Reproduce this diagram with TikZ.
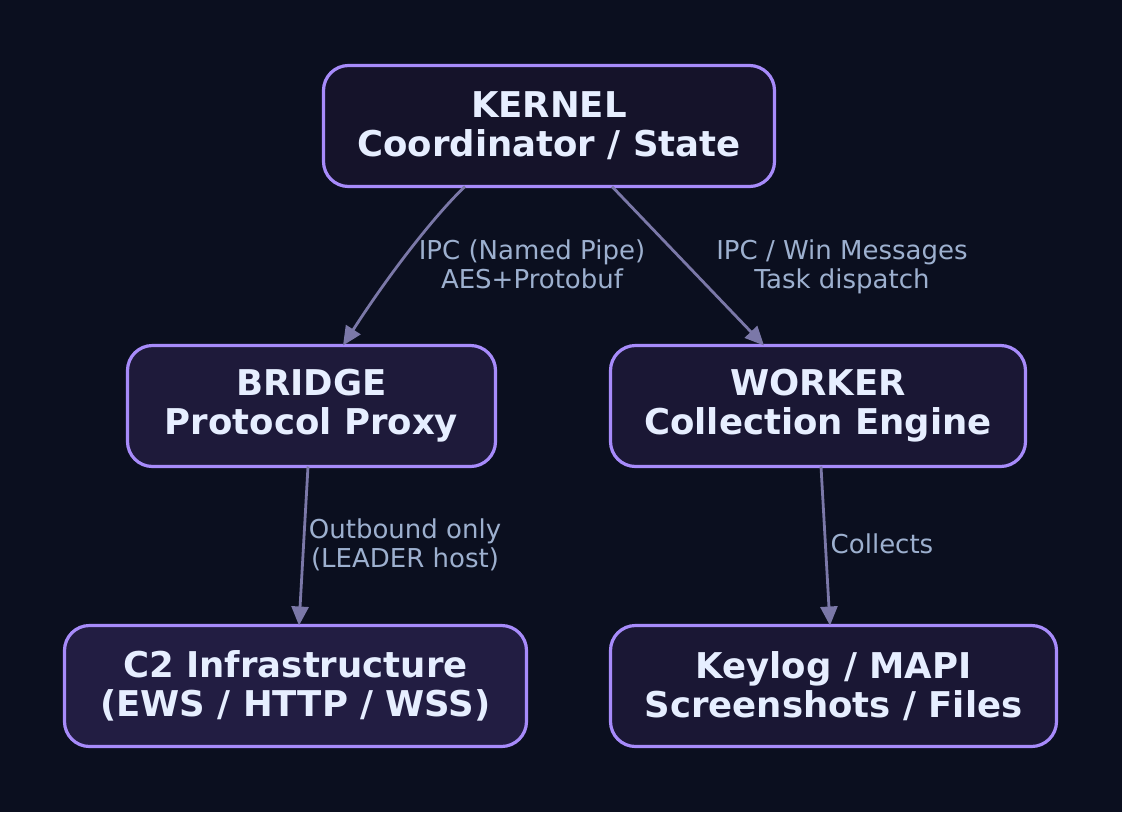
\documentclass[tikz,border=0pt]{standalone}
\usepackage{fontspec}
\setmainfont{DejaVu Sans}
\usetikzlibrary{arrows.meta}
\definecolor{bgc}{HTML}{0B0F1F}
\definecolor{fkernel}{HTML}{15132A}
\definecolor{fbridge}{HTML}{1E1A3A}
\definecolor{fworker}{HTML}{1A1734}
\definecolor{fctwo}{HTML}{221D42}
\definecolor{bordc}{HTML}{A78BFA}
\definecolor{txtc}{HTML}{E6EEFF}
\definecolor{edgec}{HTML}{7B78A8}
\definecolor{lblc}{HTML}{9DB0CF}
\tikzset{
  box/.style={draw=bordc, line width=3.2pt, rounded corners=25pt, inner sep=0pt, outer sep=0pt,
    minimum height=121pt, align=center, text=txtc,
    font=\fontsize{35.5}{39}\selectfont\bfseries},
  conn/.style={draw=edgec, line width=2.8pt, -{Triangle[length=19pt,width=17pt]}},
  lbl/.style={text=lblc, align=center, inner sep=0pt, font=\fontsize{26}{29}\selectfont}
}
\begin{document}
\begin{tikzpicture}[x=1pt,y=-1pt]
\fill[bgc] (0,0) rectangle (1122,812);
\useasboundingbox (0,0) rectangle (1122,812);
\node[box, fill=fkernel, minimum width=451pt] (kernel) at (549,126) {KERNEL\\Coordinator / State};
\node[box, fill=fbridge, minimum width=368pt] (bridge) at (311.5,406) {BRIDGE\\Protocol Proxy};
\node[box, fill=fworker, minimum width=415pt] (worker) at (818,406) {WORKER\\Collection Engine};
\node[box, fill=fctwo, minimum width=462pt] (ctwo) at (295.5,686) {C2 Infrastructure\\(EWS / HTTP / WSS)};
\node[box, fill=fworker, minimum width=446pt] (keylog) at (833.5,686) {Keylog / MAPI\\Screenshots / Files};

\draw[conn] ([xshift=-84pt]kernel.south) .. controls (440,210) and (395,265) .. ([xshift=31.5pt]bridge.north);
\draw[conn] ([xshift=63pt]kernel.south) -- ([xshift=-54pt]worker.north);
\draw[conn] ([xshift=-3.5pt]bridge.south) -- ([xshift=3.5pt]ctwo.north);
\draw[conn] ([xshift=3pt]worker.south) -- ([xshift=-3.5pt]keylog.north);

\node[lbl] (l1) at (532,264) {IPC (Named Pipe)\\AES+Protobuf};
\node[lbl] (l2) at (842,267) {IPC / Win Messages\\Task dispatch};
\node[lbl] (l3) at (405,545) {Outbound only\\(LEADER host)};
\node[lbl] (l4) at (882,544) {Collects};
\end{tikzpicture}
\end{document}
